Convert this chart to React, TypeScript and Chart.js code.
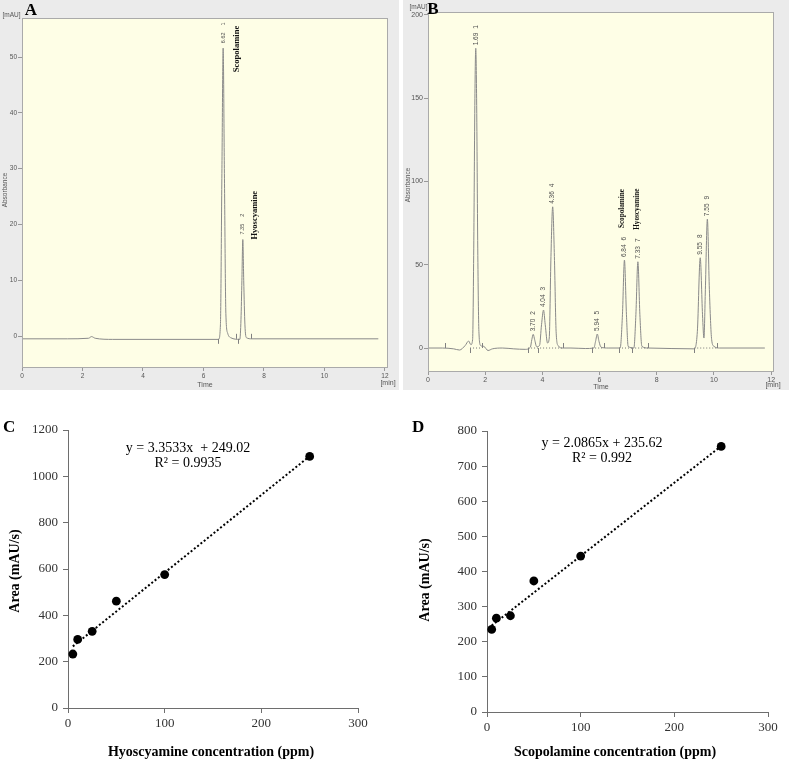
import React, { useEffect, useRef } from "react";
import { Chart, registerables } from "chart.js";
Chart.register(...registerables);

// ---------- Panel A: standard chromatogram ----------
const A_TIME = [0, 1.5, 2.2, 2.3, 2.42, 3, 6.5, 6.56, 6.61, 6.65, 6.69, 6.74, 6.8, 6.9, 7.2, 7.24, 7.27, 7.3, 7.33, 7.37, 7.42, 7.6, 11.78];
const A_ABS = [-0.5, -0.5, -0.4, -0.1, -0.4, -0.6, -0.6, 2, 30, 51.6, 30, 4, 0.5, -0.3, -0.6, 3, 10, 17.3, 10, 2, -0.3, -0.5, -0.5];
const A_PEAK_TIME = [6.65, 7.3];
const A_PEAK_ABS = [51.6, 17.3];
const A_PEAK_RT = ["6.62", "7.35"];
const A_PEAK_NO = ["1", "2"];
const A_COMPOUNDS = ["Scopolamine", "Hyoscyamine"];
const A_MARK_TIME = [6.47, 7.06, 7.15, 7.56];
const A_MARK_DIR = [-1, 1, -1, 1];
const A_BASELINE = -0.5;
const A_X_TICKS = [0, 2, 4, 6, 8, 10, 12];
const A_Y_TICKS = [0, 10, 20, 30, 40, 50];

// ---------- Panel B: extract chromatogram ----------
const B_TIME = [0, 0.5, 0.9, 1.1, 1.3, 1.42, 1.5, 1.56, 1.6, 1.64, 1.67, 1.7, 1.74, 1.78, 1.84, 1.95, 2.1, 2.25, 2.6, 3.0, 3.4, 3.58, 3.63, 3.68, 3.73, 3.8, 3.9, 3.97, 4.04, 4.1, 4.18, 4.24, 4.3, 4.36, 4.42, 4.48, 4.55, 4.7, 5.0, 5.5, 5.8, 5.86, 5.92, 5.98, 6.05, 6.3, 6.72, 6.8, 6.87, 6.94, 7.0, 7.2, 7.27, 7.34, 7.41, 7.48, 7.7, 9.3, 9.42, 9.52, 9.6, 9.65, 9.7, 9.77, 9.84, 9.92, 10.0, 10.2, 11.78];
const B_ABS = [0, 0, -0.5, -1.2, 1.5, 4.2, 2, 5, 60, 150, 180, 150, 60, 10, 1.5, 1, -1.5, -0.5, 0, -0.5, -0.8, 0.5, 5, 8.2, 5, 0.8, 1.5, 14, 22.8, 14, 3, 6, 55, 84.8, 55, 10, 1.5, 0, 0, -0.3, 0, 4, 8.4, 4, 0.5, 0, 0, 20, 52.8, 20, 1, 0, 20, 51.8, 20, 1, 0, -0.5, 10, 54.2, 20, 6, 35, 77.4, 35, 5, 1, 0, 0];
const B_PEAK_TIME = [1.67, 3.68, 4.04, 4.36, 5.92, 6.87, 7.34, 9.52, 9.77];
const B_PEAK_ABS = [180, 8.2, 22.8, 84.8, 8.4, 52.8, 51.8, 54.2, 77.4];
const B_PEAK_RT = ["1.69", "3.70", "4.04", "4.36", "5.94", "6.84", "7.33", "9.55", "7.55"];
const B_PEAK_NO = ["1", "2", "3", "4", "5", "6", "7", "8", "9"];
const B_COMPOUNDS = ["Scopolamine", "Hyoscyamine"];
const B_MARK_TIME = [0.6, 1.47, 1.88, 3.5, 3.85, 4.72, 5.74, 6.16, 6.68, 7.14, 7.69, 9.31, 10.1];
const B_MARK_DIR = [1, -1, 1, -1, -1, 1, -1, 1, -1, -1, 1, -1, 1];
const B_BASE_START = [1.47, 3.5, 5.74, 6.68, 7.14, 9.31];
const B_BASE_END = [1.88, 4.72, 6.16, 7.14, 7.69, 10.1];
const B_BASELINE = 0;
const B_X_TICKS = [0, 2, 4, 6, 8, 10, 12];
const B_Y_TICKS = [0, 50, 100, 150, 200];

// ---------- Panel C: hyoscyamine calibration ----------
const C_CONC = [5, 10, 25, 50, 100, 250];
const C_AREA = [233, 296, 331, 461, 576, 1086];
const C_TREND_X = [5, 250];
const C_TREND_Y = [266, 1087];
const C_X_TICKS = [0, 100, 200, 300];
const C_Y_TICKS = [0, 200, 400, 600, 800, 1000, 1200];

// ---------- Panel D: scopolamine calibration ----------
const D_CONC = [5, 10, 25, 50, 100, 250];
const D_AREA = [235, 267, 274, 373, 444, 756];
const D_TREND_X = [5, 250];
const D_TREND_Y = [246, 757];
const D_X_TICKS = [0, 100, 200, 300];
const D_Y_TICKS = [0, 100, 200, 300, 400, 500, 600, 700, 800];

const SANS = '"Liberation Sans", Arial, sans-serif';
const SERIF = '"Liberation Serif", "Times New Roman", serif';

function vText(ctx: CanvasRenderingContext2D, text: string, x: number, y: number, font: string, color: string) {
  ctx.save();
  ctx.translate(x, y);
  ctx.rotate(-Math.PI / 2);
  ctx.font = font;
  ctx.fillStyle = color;
  ctx.textAlign = "left";
  ctx.textBaseline = "middle";
  ctx.fillText(text, 0, 0);
  const w = ctx.measureText(text).width;
  ctx.restore();
  return w;
}

const plainLabel = (v: any) => String(v);

function chromConfig(p: any) {
  const plugin = {
    id: "chrom",
    beforeDraw(chart: any) {
      const { ctx, chartArea: ca, width, height } = chart;
      ctx.save();
      ctx.fillStyle = "#ebebeb";
      ctx.fillRect(0, 0, width, height);
      ctx.fillStyle = "#fefee6";
      ctx.fillRect(ca.left, ca.top, ca.right - ca.left, ca.bottom - ca.top);
      ctx.restore();
    },
    afterDraw(chart: any) {
      const { ctx, chartArea: ca } = chart;
      const xs = chart.scales.x, ys = chart.scales.y;
      ctx.save();
      ctx.strokeStyle = "#aaaaaa";
      ctx.lineWidth = 1;
      ctx.strokeRect(ca.left + 0.5, ca.top + 0.5, ca.right - ca.left - 1, ca.bottom - ca.top - 1);
      if (p.baseStart) {
        ctx.strokeStyle = "#777";
        ctx.setLineDash([1, 2]);
        const yb0 = ys.getPixelForValue(p.baseline);
        p.baseStart.forEach((s: number, i: number) => {
          ctx.beginPath();
          ctx.moveTo(xs.getPixelForValue(s), yb0);
          ctx.lineTo(xs.getPixelForValue(p.baseEnd[i]), yb0);
          ctx.stroke();
        });
        ctx.setLineDash([]);
      }
      ctx.strokeStyle = "#808080";
      const yb = ys.getPixelForValue(p.baseline);
      p.markT.forEach((t: number, i: number) => {
        const x = Math.round(xs.getPixelForValue(t)) + 0.5;
        ctx.beginPath();
        ctx.moveTo(x, yb);
        ctx.lineTo(x, yb - p.markDir[i] * 5);
        ctx.stroke();
      });
      p.peakT.forEach((t: number, i: number) => {
        const x = xs.getPixelForValue(t);
        const y = ys.getPixelForValue(p.peakV[i]);
        const w = vText(ctx, p.peakRt[i], x, y - p.gap1, p.labelFont, "#505050");
        vText(ctx, p.peakNo[i], x, y - p.gap1 - w - p.gap2, p.labelFont, "#505050");
      });
      p.compounds.forEach((name: string, i: number) => {
        const k = p.compPeak[i];
        const x = xs.getPixelForValue(p.peakT[k]) + p.compDx[i];
        const y = ys.getPixelForValue(p.peakV[k]) + p.compDy[i];
        vText(ctx, name, x, y, p.compFont, "#111");
      });
      ctx.fillStyle = "#000";
      ctx.font = `bold 17px ${SERIF}`;
      ctx.textAlign = "center";
      ctx.textBaseline = "middle";
      ctx.fillText(p.letter, p.letterX, p.letterY);
      ctx.fillStyle = "#555";
      ctx.font = `6.5px ${SANS}`;
      ctx.fillText("[mAU]", p.mauX, p.mauY);
      ctx.font = `7px ${SANS}`;
      ctx.fillText("Time", p.timeX, p.timeY);
      ctx.fillText("[min]", p.minX, p.minY);
      ctx.restore();
      ctx.save();
      ctx.translate(p.absX, p.absY);
      ctx.rotate(-Math.PI / 2);
      ctx.font = `6.5px ${SANS}`;
      ctx.fillStyle = "#555";
      ctx.textAlign = "center";
      ctx.textBaseline = "middle";
      ctx.fillText("Absorbance", 0, 0);
      ctx.restore();
    },
  };
  return {
    type: "line",
    data: {
      datasets: [
        {
          data: p.time.map((t: number, i: number) => ({ x: t, y: p.abs[i] })),
          borderColor: "#8a8a8a",
          borderWidth: 1,
          pointRadius: 0,
          cubicInterpolationMode: "monotone",
          fill: false,
        },
      ],
    },
    options: {
      animation: false,
      responsive: false,
      events: [],
      layout: { padding: { left: 0, top: p.padTop, right: p.padRight, bottom: 0 } },
      plugins: { legend: { display: false }, tooltip: { enabled: false } },
      scales: {
        x: {
          type: "linear",
          min: 0,
          max: p.xMax,
          afterBuildTicks: (s: any) => { s.ticks = p.xTicks.map((v: number) => ({ value: v })); },
          afterFit: (s: any) => { s.height = p.xH; },
          grid: { drawOnChartArea: false, tickLength: 3, color: "#999" },
          border: { display: false },
          ticks: { font: { family: SANS, size: p.tickSize }, color: "#555", padding: 1, maxRotation: 0, autoSkip: false, callback: plainLabel },
        },
        y: {
          type: "linear",
          min: p.yMin,
          max: p.yMax,
          afterBuildTicks: (s: any) => { s.ticks = p.yTicks.map((v: number) => ({ value: v })); },
          afterFit: (s: any) => { s.width = p.yW; },
          grid: { drawOnChartArea: false, tickLength: 4, color: "#999" },
          border: { display: false },
          ticks: { font: { family: SANS, size: p.tickSize }, color: "#555", padding: 1, autoSkip: false, callback: plainLabel },
        },
      },
    },
    plugins: [plugin],
  };
}

function scatterConfig(s: any) {
  const plugin = {
    id: "sc",
    beforeDraw(chart: any) {
      const { ctx, width, height } = chart;
      ctx.save();
      ctx.fillStyle = "#fff";
      ctx.fillRect(0, 0, width, height);
      ctx.restore();
    },
    afterDraw(chart: any) {
      const ctx = chart.ctx;
      ctx.save();
      ctx.fillStyle = "#000";
      ctx.textBaseline = "middle";
      ctx.textAlign = "left";
      ctx.font = `bold 17px ${SERIF}`;
      ctx.fillText(s.letter, s.letterX, s.letterY);
      ctx.textAlign = "center";
      ctx.font = `14px ${SERIF}`;
      ctx.fillText(s.eq, s.eqX, s.eqY);
      ctx.fillText(s.r2, s.eqX, s.eqY + 15);
      ctx.font = `bold 14px ${SERIF}`;
      ctx.fillText(s.xTitle, s.xTitleX, s.xTitleY);
      ctx.translate(s.yTitleX, s.yTitleY);
      ctx.rotate(-Math.PI / 2);
      ctx.fillText("Area (mAU/s)", 0, 0);
      ctx.restore();
    },
  };
  const axisColor = "#6e6e6e";
  return {
    type: "scatter",
    data: {
      datasets: [
        {
          data: s.x.map((v: number, i: number) => ({ x: v, y: s.y[i] })),
          pointRadius: 4.4,
          pointBackgroundColor: "#000",
          pointBorderColor: "#000",
          pointBorderWidth: 0,
          showLine: false,
        },
        {
          data: s.tx.map((v: number, i: number) => ({ x: v, y: s.ty[i] })),
          showLine: true,
          borderColor: "#000",
          borderWidth: 2,
          borderDash: [2, 2.2],
          pointRadius: 0,
        },
      ],
    },
    options: {
      animation: false,
      responsive: false,
      events: [],
      layout: { padding: { left: 0, top: s.padTop, right: s.padRight, bottom: 0 } },
      plugins: { legend: { display: false }, tooltip: { enabled: false } },
      scales: {
        x: {
          type: "linear",
          min: 0,
          max: 300,
          afterBuildTicks: (sc: any) => { sc.ticks = s.xTicks.map((v: number) => ({ value: v })); },
          afterFit: (sc: any) => { sc.height = s.xH; },
          grid: { drawOnChartArea: false, tickLength: 5, color: axisColor },
          border: { color: axisColor, width: 1 },
          ticks: { font: { family: SERIF, size: 13 }, color: "#333", padding: 3, maxRotation: 0, autoSkip: false, callback: plainLabel },
        },
        y: {
          type: "linear",
          min: 0,
          max: s.yMax,
          afterBuildTicks: (sc: any) => { sc.ticks = s.yTicks.map((v: number) => ({ value: v })); },
          afterFit: (sc: any) => { sc.width = s.yW; },
          grid: { drawOnChartArea: false, tickLength: 5, color: axisColor },
          border: { color: axisColor, width: 1 },
          ticks: { font: { family: SERIF, size: 13 }, color: "#333", padding: 5, autoSkip: false, callback: plainLabel },
        },
      },
    },
    plugins: [plugin],
  };
}

function ChartCanvas({ left, top, width, height, make }: any) {
  const ref = useRef<HTMLCanvasElement>(null);
  useEffect(() => {
    const chart = new Chart(ref.current as HTMLCanvasElement, make());
    return () => chart.destroy();
  }, []);
  return (
    <canvas
      ref={ref}
      width={width}
      height={height}
      style={{ position: "absolute", left, top, width, height, display: "block" }}
    />
  );
}

const makeA = () =>
  chromConfig({
    time: A_TIME, abs: A_ABS, xMax: 12.1, yMin: -5.73, yMax: 57.0,
    xTicks: A_X_TICKS, yTicks: A_Y_TICKS, yW: 22, xH: 22, padTop: 18, padRight: 11, tickSize: 6.5,
    peakT: A_PEAK_TIME, peakV: A_PEAK_ABS, peakRt: A_PEAK_RT, peakNo: A_PEAK_NO,
    labelFont: `5.5px ${SANS}`, gap1: 5, gap2: 7,
    compounds: A_COMPOUNDS, compPeak: [0, 1], compDx: [14, 12], compDy: [24, 0], compFont: `bold 8.5px ${SERIF}`,
    markT: A_MARK_TIME, markDir: A_MARK_DIR, baseline: A_BASELINE,
    letter: "A", letterX: 31, letterY: 10.5, mauX: 11.5, mauY: 15.5, absX: 5, absY: 190,
    timeX: 205, timeY: 385, minX: 388, minY: 383,
  });

const makeB = () =>
  chromConfig({
    time: B_TIME, abs: B_ABS, xMax: 12.1, yMin: -14.4, yMax: 201.8,
    xTicks: B_X_TICKS, yTicks: B_Y_TICKS, yW: 25, xH: 18, padTop: 12, padRight: 15, tickSize: 7,
    peakT: B_PEAK_TIME, peakV: B_PEAK_ABS, peakRt: B_PEAK_RT, peakNo: B_PEAK_NO,
    labelFont: `6.5px ${SANS}`, gap1: 3, gap2: 4,
    compounds: B_COMPOUNDS, compPeak: [5, 6], compDx: [-2.5, -1], compDy: [-32, -32], compFont: `bold 7.2px ${SERIF}`,
    markT: B_MARK_TIME, markDir: B_MARK_DIR, baseline: B_BASELINE,
    baseStart: B_BASE_START, baseEnd: B_BASE_END,
    letter: "B", letterX: 30, letterY: 10, mauX: 15.5, mauY: 7, absX: 5, absY: 185,
    timeX: 198, timeY: 387, minX: 370, minY: 385,
  });

const makeC = () =>
  scatterConfig({
    x: C_CONC, y: C_AREA, tx: C_TREND_X, ty: C_TREND_Y, xTicks: C_X_TICKS, yTicks: C_Y_TICKS, yMax: 1200,
    yW: 68, xH: 54, padTop: 38, padRight: 37,
    letter: "C", letterX: 3, letterY: 36,
    eq: "y = 3.3533x  + 249.02", r2: "R² = 0.9935", eqX: 188, eqY: 56,
    xTitle: "Hyoscyamine concentration (ppm)", xTitleX: 211, xTitleY: 360, yTitleX: 15, yTitleY: 179,
  });

const makeD = () =>
  scatterConfig({
    x: D_CONC, y: D_AREA, tx: D_TREND_X, ty: D_TREND_Y, xTicks: D_X_TICKS, yTicks: D_Y_TICKS, yMax: 800,
    yW: 92, xH: 50, padTop: 39, padRight: 21,
    letter: "D", letterX: 17, letterY: 36,
    eq: "y = 2.0865x + 235.62", r2: "R² = 0.992", eqX: 207, eqY: 51,
    xTitle: "Scopolamine concentration (ppm)", xTitleX: 220, xTitleY: 360, yTitleX: 30, yTitleY: 188,
  });

export default function App() {
  return (
    <div style={{ position: "fixed", left: 0, top: 0, width: 789, height: 762, background: "#fff", overflow: "hidden" }}>
      <ChartCanvas left={0} top={0} width={399} height={390} make={makeA} />
      <ChartCanvas left={403} top={0} width={386} height={390} make={makeB} />
      <ChartCanvas left={0} top={392} width={395} height={370} make={makeC} />
      <ChartCanvas left={395} top={392} width={394} height={370} make={makeD} />
    </div>
  );
}
